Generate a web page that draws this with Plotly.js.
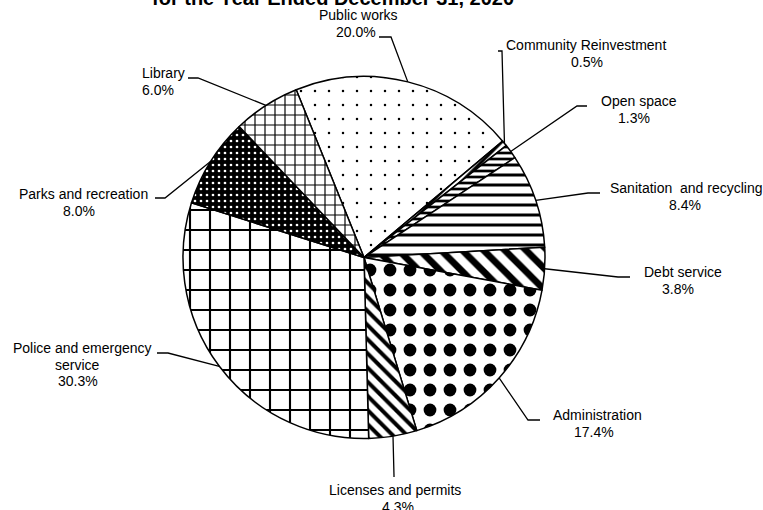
<!DOCTYPE html>
<html>
<head>
<meta charset="utf-8">
<script src="https://cdn.plot.ly/plotly-3.0.1.min.js"></script>
<style>
  html, body { margin: 0; padding: 0; background: #ffffff; }
  #chart { width: 763px; height: 510px; }
</style>
</head>
<body>
<div id="chart"></div>
<script>
// ---- data ----
const categories = ["Public works", "Community Reinvestment", "Open space", "Sanitation and recycling",
  "Debt service", "Administration", "Licenses and permits", "Police and emergency service",
  "Parks and recreation", "Library"];
const shares = [20.0, 0.5, 1.3, 8.4, 3.8, 17.4, 4.3, 30.3, 8.0, 6.0];
const labelLines = [["Public works"], ["Community Reinvestment"], ["Open space"], ["Sanitation  and recycling"],
  ["Debt service"], ["Administration"], ["Licenses and permits"], ["Police and emergency", "service"],
  ["Parks and recreation"], ["Library"]];
const chartTitle = "for the Year Ended December 31, 2020";

// ---- styling / layout (pixels) ----
const W = 763, H = 510;
const CX = 364, CY = 257.5, R = 181, ROT = -22;
const patShape = [".", "/", "-", "-", "\\", ".", "\\", "+", ".", "+"];
const patSize = [14, 7, 6, 10, 15, 20, 10, 20, 6, 10];
const patSolid = [0.025, 0.45, 0.45, 0.3, 0.45, 0.32, 0.4, 0.2, 0.16, 0.22];
const patFg = ["#000", "#000", "#000", "#000", "#000", "#000", "#000", "#000", "#fff", "#000"];
const patBg = ["#fff", "#fff", "#fff", "#fff", "#fff", "#fff", "#fff", "#fff", "#000", "#fff"];
// per label: x centre of each text line and baseline of the first line, line step
const lineX = [[358, 355.5], [586, 587], [638.5, 634], [686, 685], [682.5, 678], [597.5, 594],
  [395, 397.5], [82.5, 77.5, 78], [83.5, 79], [163, 158]];
const firstBase = [20, 50, 106, 193, 277, 420, 495, 353, 199, 78];
const LINE_STEP = 16.5;
// leader line start / elbow points
const leadStart = [[379, 37], [498, 51], [587, 106], [600, 193], [630, 277], [540, 420],
  [394, 477], [157, 353], [155, 198], [188, 78]];
const leadElbow = [[391, 37], [502, 51], [577, 106], [588, 193], [618, 277], [528, 420],
  [394, 476], [168, 353], [165, 198], [198, 78]];

const px = x => x / W;
const py = y => 1 - y / H;
const FONT = 'Arial, "Liberation Sans", sans-serif';
const FS = 14;

const total = shares.reduce((a, b) => a + b, 0);
let cum = 0;
const annotations = [];
const shapes = [];
shares.forEach((v, i) => {
  const mid = (ROT + (cum + v / 2) / total * 360) * Math.PI / 180;
  cum += v;
  const ex = CX + R * Math.sin(mid), ey = CY - R * Math.cos(mid);
  const s = leadStart[i], e = leadElbow[i];
  shapes.push({
    type: 'path', xref: 'paper', yref: 'paper',
    path: `M${px(s[0])},${py(s[1])} L${px(e[0])},${py(e[1])} L${px(ex)},${py(ey)}`,
    line: {color: '#000', width: 1.3}
  });
  const lines = labelLines[i].concat([v.toFixed(1) + '%']);
  lines.forEach((t, k) => {
    const base = firstBase[i] + k * LINE_STEP;
    annotations.push({
      xref: 'paper', yref: 'paper', x: px(lineX[i][k]), y: py(base - 4.9),
      xanchor: 'center', yanchor: 'middle', showarrow: false, text: t,
      font: {family: FONT, size: FS, color: '#000'}
    });
  });
});
annotations.push({
  xref: 'paper', yref: 'paper', x: px(332.5), y: py(11), xanchor: 'center', yanchor: 'bottom',
  showarrow: false, text: '<b>' + chartTitle + '</b>',
  font: {family: FONT, size: 20, color: '#000'}
});

const trace = {
  type: 'pie',
  labels: categories,
  values: shares,
  sort: false,
  direction: 'clockwise',
  rotation: ROT,
  textinfo: 'none',
  hoverinfo: 'label+percent',
  showlegend: false,
  domain: {x: [px(CX - R), px(CX + R)], y: [py(CY + R), py(CY - R)]},
  marker: {
    colors: patBg,
    line: {color: '#000', width: 1.5},
    pattern: {shape: patShape, size: patSize, solidity: patSolid, fgcolor: patFg,
      bgcolor: patBg, fgopacity: 1, fillmode: 'overlay'}
  }
};

const layout = {
  width: W, height: H,
  margin: {l: 0, r: 0, t: 0, b: 0},
  paper_bgcolor: '#fff', plot_bgcolor: '#fff',
  font: {family: FONT, color: '#000'},
  annotations: annotations,
  shapes: shapes
};

Plotly.newPlot('chart', [trace], layout, {displayModeBar: false, staticPlot: true});
</script>
</body>
</html>
